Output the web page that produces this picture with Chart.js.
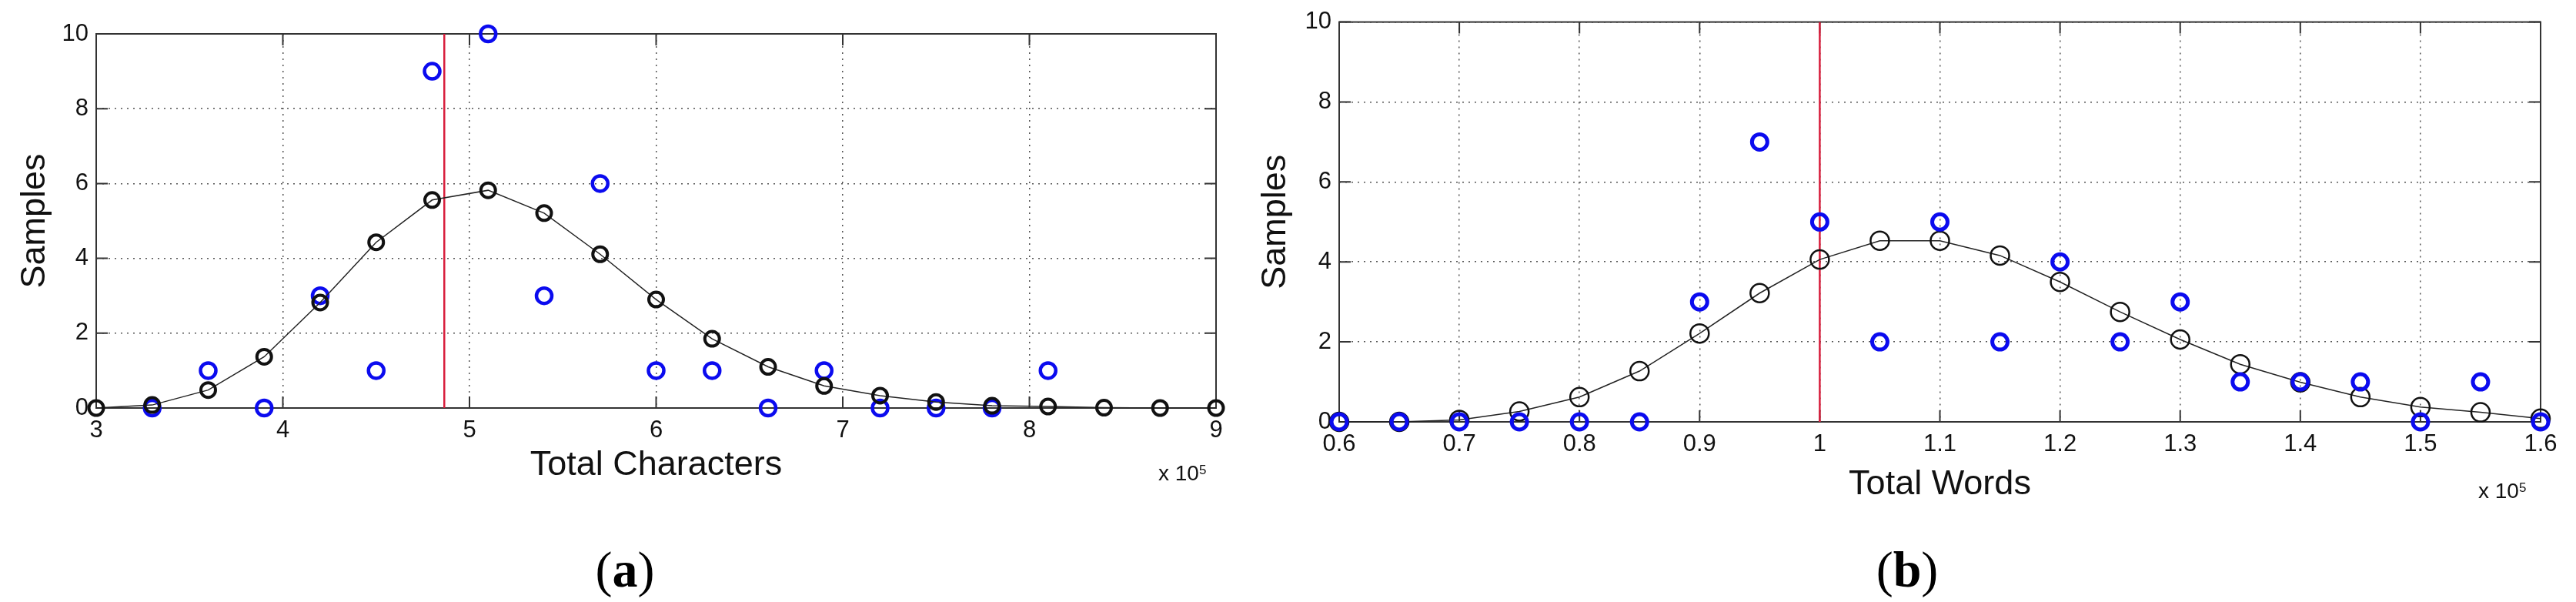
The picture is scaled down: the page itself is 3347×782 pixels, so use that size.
<!DOCTYPE html>
<html>
<head>
<meta charset="utf-8">
<script src="https://cdn.jsdelivr.net/npm/chart.js@4.4.1/dist/chart.umd.min.js"></script>
<style>
  html, body { margin:0; padding:0; background:#fff; }
  body { width:3347px; height:782px; position:relative; overflow:hidden; }
  canvas { position:absolute; top:0; }
  .mult { position:absolute; font-family:"Liberation Sans", Arial, sans-serif; font-size:28px; line-height:28px; color:#111; white-space:nowrap; }
  .mult sup { font-size:17px; position:relative; top:-4px; vertical-align:top; }
  .cap { position:absolute; width:200px; text-align:center; font-family:"Liberation Serif", "Times New Roman", serif; font-size:66px; line-height:66px; color:#000; }
</style>
</head>
<body>
<canvas id="ca" width="1640" height="782" style="left:0px"></canvas>
<canvas id="cb" width="1727" height="782" style="left:1620px"></canvas>
<div class="mult" style="left:1505px; top:601px;">x 10<sup>5</sup></div>
<div class="mult" style="left:3220px; top:624px;">x 10<sup>5</sup></div>
<div class="cap" style="left:712px; top:707px;">(<b>a</b>)</div>
<div class="cap" style="left:2378px; top:707px;">(<b>b</b>)</div>
<script>
// ---- Data (a): Total Characters (x 10^5) ----
const xA = [3.0, 3.3, 3.6, 3.9, 4.2, 4.5, 4.8, 5.1, 5.4, 5.7, 6.0, 6.3, 6.6, 6.9, 7.2, 7.5, 7.8, 8.1, 8.4, 8.7, 9.0];
const fitA = [0, 0.08, 0.48, 1.37, 2.82, 4.43, 5.56, 5.82, 5.21, 4.11, 2.90, 1.85, 1.10, 0.59, 0.33, 0.16, 0.06, 0.04, 0.01, 0, 0];
const sampA = [null, 0, 1, 0, 3, 1, 9, 10, 3, 6, 1, 1, 0, 1, 0, 0, 0, 1, null, null, null];
const meanA = 4.865;
const xTicksA = [3, 4, 5, 6, 7, 8, 9];
const xTickLabelsA = ['3', '4', '5', '6', '7', '8', '9'];

// ---- Data (b): Total Words (x 10^5) ----
const xB = [0.60, 0.65, 0.70, 0.75, 0.80, 0.85, 0.90, 0.95, 1.00, 1.05, 1.10, 1.15, 1.20, 1.25, 1.30, 1.35, 1.40, 1.45, 1.50, 1.55, 1.60];
const fitB = [0, 0, 0.05, 0.26, 0.62, 1.27, 2.21, 3.22, 4.06, 4.53, 4.53, 4.16, 3.50, 2.75, 2.06, 1.44, 0.99, 0.62, 0.37, 0.24, 0.08];
const sampB = [0, 0, 0, 0, 0, 0, 3, 7, 5, 2, 5, 2, 4, 2, 3, 1, 1, 1, 0, 1, 0];
const meanB = 1.0;
const xTicksB = [0.6, 0.7, 0.8, 0.9, 1.0, 1.1, 1.2, 1.3, 1.4, 1.5, 1.6];
const xTickLabelsB = ['0.6', '0.7', '0.8', '0.9', '1', '1.1', '1.2', '1.3', '1.4', '1.5', '1.6'];

// ---- Shared y axis ----
const yTicks = [0, 2, 4, 6, 8, 10];
const yTickLabels = ['0', '2', '4', '6', '8', '10'];

const boxPlugin = {
  id: 'matlabBox',
  beforeDatasetsDraw(chart) {
    const { ctx, chartArea: { left, right, top, bottom }, scales: { x, y } } = chart;
    ctx.save();
    ctx.strokeStyle = '#333';
    ctx.lineWidth = 2;
    ctx.strokeRect(left, top, right - left, bottom - top);
    ctx.beginPath();
    x.ticks.forEach(t => {
      const px = x.getPixelForValue(t.value);
      ctx.moveTo(px, bottom); ctx.lineTo(px, bottom - 15);
      ctx.moveTo(px, top); ctx.lineTo(px, top + 15);
    });
    y.ticks.forEach(t => {
      const py = y.getPixelForValue(t.value);
      ctx.moveTo(left, py); ctx.lineTo(left + 15, py);
      ctx.moveTo(right, py); ctx.lineTo(right - 15, py);
    });
    ctx.stroke();
    ctx.restore();
  }
};

function pts(xs, ys) {
  const out = [];
  xs.forEach((xv, i) => { if (ys[i] !== null) out.push({ x: xv, y: ys[i] }); });
  return out;
}

function makeChart(id, cfg) {
  const tickFont = { family: '"Liberation Sans", Arial, sans-serif', size: 31 };
  const titleFont = { family: '"Liberation Sans", Arial, sans-serif', size: 45 };
  return new Chart(document.getElementById(id), {
    type: 'scatter',
    data: {
      datasets: [
        {
          label: 'Samples',
          data: pts(cfg.xs, cfg.samp),
          showLine: false,
          pointStyle: 'circle',
          pointRadius: cfg.blueR,
          pointBorderWidth: cfg.blueBW,
          pointBackgroundColor: 'rgba(0,0,0,0)',
          pointBorderColor: '#0b0bef',
          clip: false,
          order: cfg.blueOrder
        },
        {
          label: 'Fit',
          data: pts(cfg.xs, cfg.fit),
          showLine: true,
          tension: 0,
          borderColor: '#222',
          borderWidth: 1.5,
          pointStyle: 'circle',
          pointRadius: cfg.blackR,
          pointBorderWidth: cfg.blackBW,
          pointBackgroundColor: 'rgba(0,0,0,0)',
          pointBorderColor: '#111',
          clip: false,
          order: cfg.blackOrder
        },
        {
          label: 'Mean',
          data: [{ x: cfg.mean, y: 0 }, { x: cfg.mean, y: 10 }],
          showLine: true,
          borderColor: '#d81e3c',
          borderWidth: 2.5,
          pointRadius: 0,
          order: 3
        }
      ]
    },
    options: {
      responsive: false,
      animation: false,
      events: [],
      layout: { padding: cfg.padding },
      plugins: { legend: { display: false }, tooltip: { enabled: false } },
      scales: {
        x: {
          type: 'linear',
          min: cfg.xTicks[0],
          max: cfg.xTicks[cfg.xTicks.length - 1],
          afterBuildTicks: s => { s.ticks = cfg.xTicks.map(v => ({ value: v })); },
          afterFit: s => { s.height = cfg.xH; },
          ticks: {
            autoSkip: false, maxRotation: 0, padding: 11, color: '#111', font: tickFont,
            callback: (v, i) => cfg.xLabels[i]
          },
          grid: { color: '#555', lineWidth: 1.5, drawTicks: false },
          border: { display: false, dash: [2, 6] },
          title: { display: true, text: cfg.xTitle, color: '#111', font: titleFont, padding: { top: 0, bottom: 0 } }
        },
        y: {
          type: 'linear',
          min: 0,
          max: 10,
          afterBuildTicks: s => { s.ticks = yTicks.map(v => ({ value: v })); },
          afterFit: s => { s.width = cfg.yW; },
          ticks: {
            autoSkip: false, padding: 10, color: '#111', font: tickFont,
            callback: (v, i) => yTickLabels[i]
          },
          grid: { color: '#555', lineWidth: 1.5, drawTicks: false },
          border: { display: false, dash: [2, 6] },
          title: { display: true, text: 'Samples', color: '#111', font: titleFont, padding: { top: cfg.yTitlePad, bottom: 0 } }
        }
      }
    },
    plugins: [boxPlugin]
  });
}

makeChart('ca', {
  xs: xA, fit: fitA, samp: sampA, mean: meanA,
  xTicks: xTicksA, xLabels: xTickLabelsA, xTitle: 'Total Characters',
  padding: { left: 0, top: 44, right: 60, bottom: 150 },
  xH: 102, yW: 125, yTitlePad: 19,
  blueR: 10, blueBW: 4.5, blackR: 9.5, blackBW: 4,
  blueOrder: 2, blackOrder: 1
});

makeChart('cb', {
  xs: xB, fit: fitB, samp: sampB, mean: meanB,
  xTicks: xTicksB, xLabels: xTickLabelsB, xTitle: 'Total Words',
  padding: { left: 0, top: 28, right: 46, bottom: 125 },
  xH: 109, yW: 120, yTitlePad: 11,
  blueR: 10, blueBW: 5, blackR: 12, blackBW: 2.5,
  blueOrder: 1, blackOrder: 2
});
</script>
</body>
</html>
